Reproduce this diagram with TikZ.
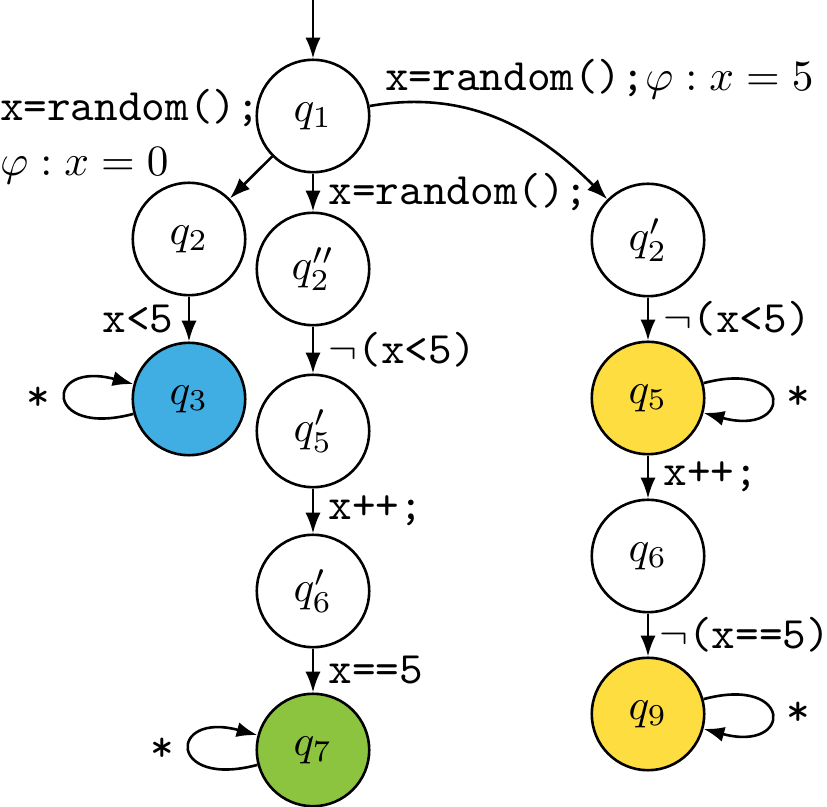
\documentclass[tikz,border=0pt]{standalone}
\usepackage{amsmath, amssymb}
\usepackage{tikz}
\usetikzlibrary{arrows.meta}

\definecolor{qblue}{RGB}{65,174,227}
\definecolor{qgreen}{RGB}{140,196,63}
\definecolor{qyellow}{RGB}{254,221,64}

\tikzset{
    qstate/.style={circle, draw, semithick, minimum size=26pt, inner sep=0pt},
    trans/.style={semithick, -{Latex[length=4.8pt,width=3.5pt]}},
}

\begin{document}
\begin{tikzpicture}[x=0.2312pt, y=0.2312pt, font=\fontsize{10.4pt}{12.5pt}\selectfont]
        \useasboundingbox (0,0) rectangle (827,-807);
        \coordinate (start) at (313,0);
        \node[qstate] (q1) at (313,-116) {$q_1$};
        \node[qstate] (q2) at (189,-239) {$q_2$};
        \node[qstate] (q2pp) at (313,-269) {$q_2''$};
        \node[qstate] (q2p) at (648,-240) {$q_2'$};
        \node[qstate, fill=qblue] (q3) at (189,-399) {$q_3$};
        \node[qstate] (q5p) at (313,-431) {$q_5'$};
        \node[qstate] (q6p) at (313,-591) {$q_6'$};
        \node[qstate, fill=qgreen] (q7) at (313,-750) {$q_7$};
        \node[qstate, fill=qyellow] (q5) at (648,-398) {$q_5$};
        \node[qstate] (q6) at (648,-556) {$q_6$};
        \node[qstate, fill=qyellow] (q9) at (648,-714) {$q_9$};

        \draw[trans] (start) -- (q1);
        \draw[trans] (q1) -- node[pos=0, left, xshift=0.8pt, yshift=4.6pt, align=left]
            {\texttt{x=random();}\\$\varphi : x = 0$} (q2);
        \draw[trans] (q1) -- node[right] {\texttt{x=random();}} (q2pp);
        \draw[trans] (q1) to[out=10, in=135] node[pos=0, above right, yshift=-2pt]
            {\texttt{x=random();}$\varphi : x = 5$} (q2p);

        \draw[trans] (q2) -- node[left] {\texttt{x<5}} (q3);
        \draw[trans] (q3) to[loop left] node[left] {\texttt{*}} (q3);

        \draw[trans] (q2pp) -- node[right] {$\neg$\texttt{(x<5)}} (q5p);
        \draw[trans] (q5p) -- node[right] {\texttt{x++;}} (q6p);
        \draw[trans] (q6p) -- node[right] {\texttt{x==5}} (q7);
        \draw[trans] (q7) to[loop left] node[left] {\texttt{*}} (q7);

        \draw[trans] (q2p) -- node[right] {$\neg$\texttt{(x<5)}} (q5);
        \draw[trans] (q5) to[loop right] node[right] {\texttt{*}} (q5);
        \draw[trans] (q5) -- node[right] {\texttt{x++;}} (q6);
        \draw[trans] (q6) -- node[right, xshift=-1pt] {$\neg$\texttt{(x==5)}} (q9);
        \draw[trans] (q9) to[loop right] node[right] {\texttt{*}} (q9);
\end{tikzpicture}
\end{document}
